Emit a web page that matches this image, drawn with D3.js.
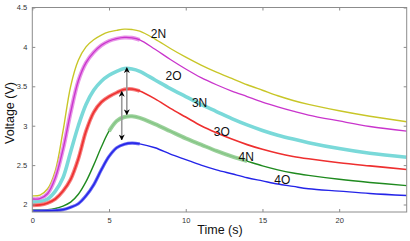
<!DOCTYPE html>
<html><head><meta charset="utf-8">
<script src="https://cdn.jsdelivr.net/npm/d3@7"></script>
<style>body{margin:0;background:#fff}svg{display:block}</style>
</head><body>
<svg id="chart" width="410" height="241"></svg>
<script>
const times = [0,0.5,1,1.5,2,2.5,3,3.5,4,4.5,5,5.5,6,6.5,7,8,9,10,11,12,13,14,15,16,17,18,20,22,24.4];
const v2N = [2.11,2.12,2.20,2.43,2.93,3.50,3.83,4.00,4.09,4.15,4.19,4.21,4.225,4.22,4.20,4.10,3.98,3.87,3.77,3.68,3.60,3.52,3.45,3.38,3.32,3.27,3.19,3.12,3.05];
const v2O = [2.07,2.075,2.14,2.34,2.70,3.17,3.57,3.80,3.93,4.02,4.075,4.105,4.12,4.115,4.09,3.97,3.84,3.72,3.61,3.52,3.44,3.37,3.30,3.24,3.185,3.135,3.06,2.99,2.93];
const v3N = [2.03,2.035,2.07,2.17,2.34,2.67,3.00,3.27,3.45,3.565,3.64,3.69,3.725,3.72,3.69,3.58,3.47,3.37,3.27,3.18,3.09,3.01,2.94,2.88,2.83,2.785,2.71,2.65,2.60];
const v3O = [1.99,1.995,2.02,2.07,2.17,2.32,2.58,2.93,3.17,3.30,3.37,3.42,3.46,3.465,3.44,3.34,3.22,3.11,3.00,2.91,2.83,2.76,2.70,2.65,2.61,2.58,2.53,2.49,2.445];
const v4N = [1.93,1.93,1.935,1.95,1.98,2.03,2.13,2.29,2.50,2.73,2.93,3.06,3.11,3.12,3.10,3.02,2.93,2.84,2.76,2.68,2.61,2.55,2.49,2.44,2.40,2.37,2.32,2.28,2.24];
const v4O = [1.917,1.918,1.92,1.925,1.935,1.965,2.01,2.11,2.25,2.44,2.61,2.72,2.765,2.78,2.77,2.72,2.64,2.57,2.50,2.44,2.39,2.34,2.30,2.26,2.23,2.20,2.17,2.14,2.115];

const seriesNames = ["2N","2O","3N","3O","4N","4O"];
const labelT = [8.22, 9.2, 10.9, 12.35, 13.94, 16.29];
const labelV = [4.165, 3.626, 3.287, 2.926, 2.60, 2.31];

const xTicks = [0,5,10,15,20];
const yTicks = [2,2.5,3,3.5,4,4.5];

// double-headed arrows: time, top voltage, bottom voltage
const arrowT = [6.16, 5.83];
const arrowTop = [3.737, 3.435];
const arrowBottom = [3.14, 2.82];

const svg = d3.select("#chart");
const L = 32.3, R = 406.7, T = 7.5, B = 212;
const x = d3.scaleLinear().domain([0, 24.4]).range([L, R]);
const y = d3.scaleLinear().domain([1.905, 4.5]).range([B, T]);

const clipId = "clip";
svg.append("clipPath").attr("id", clipId).append("rect")
  .attr("x", L).attr("y", T).attr("width", R - L).attr("height", B - T);

const pts = vals => times.map((t, i) => [t, vals[i]]);
const line = d3.line().x(d => x(d[0])).y(d => y(d[1])).curve(d3.curveCatmullRom.alpha(0.5));

const g = svg.append("g").attr("clip-path", `url(#${clipId})`);

const styles = [
  {vals: v2N, line: "#c8c628", lw: 1.4, band: null},
  {vals: v2O, line: "#c935cc", lw: 1.3, band: {c: "#e894e8", w: 4, t0: 0, t1: 7.2}},
  {vals: v3N, line: "#7ad9d9", lw: 3.6, band: null},
  {vals: v3O, line: "#ee2f2f", lw: 1.6, band: {c: "#f57e7e", w: 3.8, t0: 0, t1: 7}},
  {vals: v4N, line: "#1f8a1f", lw: 1.4, band: {c: "#90cc90", w: 4, t0: 5.0, t1: 14}},
  {vals: v4O, line: "#2424e8", lw: 1.4, band: {c: "#6a6af2", w: 3.2, t0: 0, t1: 7}}
];

styles.forEach(s => {
  const p = pts(s.vals);
  if (s.band && s.band.t0 === 0) {
    g.append("path").attr("d", line(p.filter(d => d[0] >= s.band.t0 && d[0] <= s.band.t1)))
      .attr("fill", "none").attr("stroke", s.band.c).attr("stroke-width", s.band.w);
  }
  g.append("path").attr("d", line(p)).attr("fill", "none")
    .attr("stroke", s.line).attr("stroke-width", s.lw);
  if (s.band && s.band.t0 > 0) {
    g.append("path").attr("d", line(p.filter(d => d[0] >= s.band.t0 && d[0] <= s.band.t1)))
      .attr("fill", "none").attr("stroke", s.band.c).attr("stroke-width", s.band.w)
      .attr("stroke-opacity", 0.9);
  }
});

// arrows
const defs = svg.append("defs");
defs.append("marker").attr("id", "ah").attr("viewBox", "0 0 10 10")
  .attr("refX", 9).attr("refY", 5).attr("markerWidth", 6).attr("markerHeight", 6)
  .attr("orient", "auto-start-reverse").attr("markerUnits", "userSpaceOnUse")
  .append("path").attr("d", "M0,0 L10,5 L0,10 L3,5 Z").attr("fill", "#000");

arrowT.forEach((t, i) => {
  svg.append("line")
    .attr("x1", x(t)).attr("x2", x(t))
    .attr("y1", y(arrowTop[i])).attr("y2", y(arrowBottom[i]))
    .attr("stroke", "#9a9a9a").attr("stroke-width", 1.6)
    .attr("marker-start", "url(#ah)").attr("marker-end", "url(#ah)");
});

// labels
seriesNames.forEach((n, i) => {
  svg.append("text").attr("x", x(labelT[i])).attr("y", y(labelV[i]))
    .attr("text-anchor", "middle").attr("dominant-baseline", "central")
    .attr("font-family", "Liberation Sans, Arial, sans-serif").attr("font-size", 12)
    .attr("fill", "#111").text(n);
});

// frame & ticks
const axisColor = "#8c8c8c";
svg.append("rect").attr("x", L).attr("y", T).attr("width", R - L).attr("height", B - T)
  .attr("fill", "none").attr("stroke", axisColor).attr("stroke-width", 1);

const xb = d3.axisBottom(x).tickValues(xTicks).tickSize(-3).tickPadding(6).tickFormat(d3.format("d"));
const xt = d3.axisTop(x).tickValues(xTicks).tickSize(-3).tickFormat("");
const yl = d3.axisLeft(y).tickValues(yTicks).tickSize(-3).tickPadding(5).tickFormat(d => String(d));
const yr = d3.axisRight(y).tickValues(yTicks).tickSize(-3).tickFormat("");

function styleAxis(sel) {
  sel.select(".domain").remove();
  sel.selectAll(".tick line").attr("stroke", axisColor);
  sel.selectAll("text").attr("font-family", "Liberation Sans, Arial, sans-serif")
    .attr("font-size", 7.5).attr("fill", "#333");
}
svg.append("g").attr("transform", `translate(0,${B})`).call(xb).call(styleAxis);
svg.append("g").attr("transform", `translate(0,${T})`).call(xt).call(styleAxis);
svg.append("g").attr("transform", `translate(${L},0)`).call(yl).call(styleAxis);
svg.append("g").attr("transform", `translate(${R},0)`).call(yr).call(styleAxis);

// axis titles
svg.append("text").attr("x", 220).attr("y", 230).attr("text-anchor", "middle")
  .attr("dominant-baseline", "central")
  .attr("font-family", "Liberation Sans, Arial, sans-serif").attr("font-size", 12.5)
  .attr("fill", "#111").text("Time (s)");
svg.append("text").attr("transform", "translate(10,113) rotate(-90)")
  .attr("text-anchor", "middle").attr("dominant-baseline", "central")
  .attr("font-family", "Liberation Sans, Arial, sans-serif").attr("font-size", 12.5)
  .attr("fill", "#111").text("Voltage (V)");
</script>
</body></html>
